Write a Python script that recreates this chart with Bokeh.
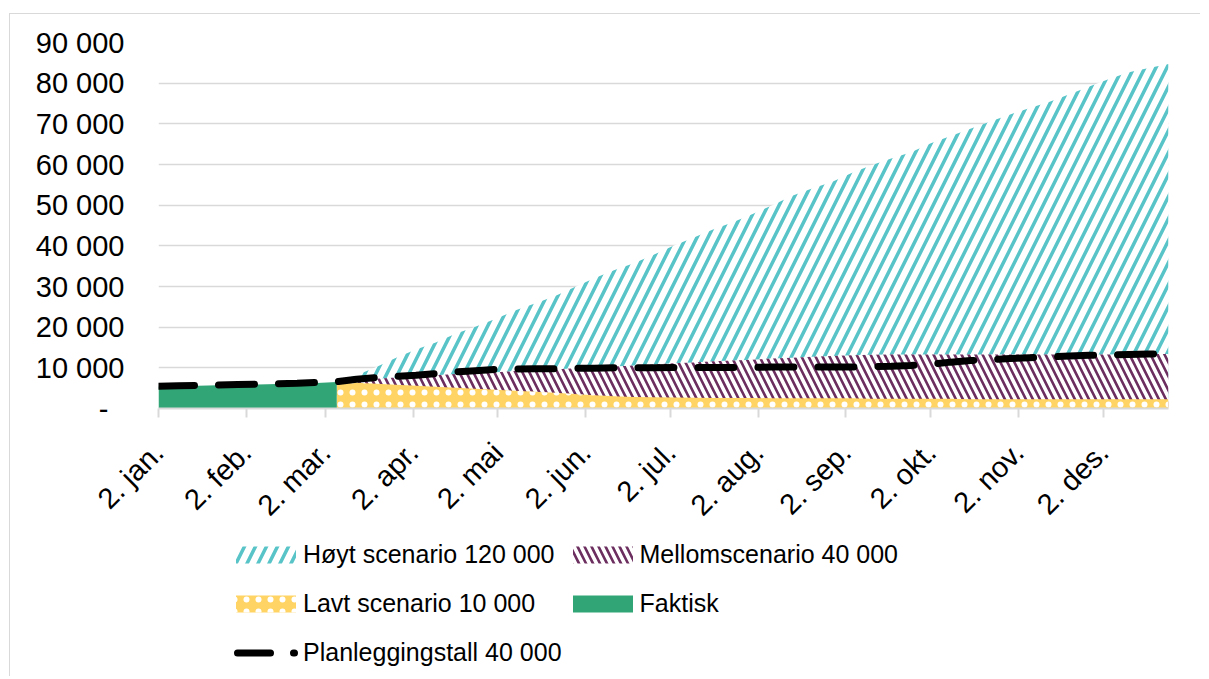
import math
import pandas as pd
from bokeh.plotting import figure
from bokeh.layouts import column
from bokeh.models import (ColumnDataSource, Range1d, FixedTicker, Legend, LegendItem)
from bokeh.embed import file_html
from bokeh.resources import INLINE

# ---------------- data ----------------
weeks = pd.date_range("2023-01-02", periods=52, freq="7D")
scen_weeks = weeks[9:]

faktisk = [5400, 5500, 5600, 5700, 5800, 5900, 6000, 6200, 6300, 6500]

hoyt = [6600, 8200, 10200, 12500, 14500, 16200, 18400, 20100, 22000, 24100,
        25800, 27600, 29800, 32000, 34000, 35700, 37800, 40000, 42000, 44000,
        45800, 47800, 50000, 52300, 54100, 55700, 57900, 59800, 61500, 63000,
        65200, 67000, 68800, 70600, 72300, 73900, 75400, 77300, 79200, 81000,
        82700, 83700, 84700]

mellom = [6700, 7000, 7300, 7600, 7900, 8200, 8500, 8700, 8900, 9200,
          9400, 9600, 9900, 10100, 10300, 10600, 10800, 11100, 11300, 11600,
          11800, 12000, 12300, 12500, 12700, 12900, 13100, 13200, 13300, 13300,
          13300, 13300, 13300, 13300, 13300, 13300, 13300, 13300, 13300, 13300,
          13400, 13400, 13400]

lavt = [6600, 6350, 6100, 5850, 5600, 5350, 5100, 4850, 4600, 4350,
        4100, 3850, 3550, 3250, 3000, 2850, 2750, 2700, 2650, 2600,
        2600, 2600, 2500, 2500, 2500, 2500, 2500, 2400, 2400, 2400,
        2400, 2400, 2300, 2300, 2300, 2300, 2300, 2300, 2300, 2300,
        2300, 2300, 2300]

plan = [5500, 5600, 5700, 5800, 5900, 6000, 6100, 6200, 6400, 6600,
        7200, 7600, 7900, 8200, 8600, 9000, 9300, 9600, 9700, 9800,
        9800, 9900, 9900, 10000, 10000, 10000, 10100, 10100, 10100, 10100,
        10100, 10200, 10200, 10200, 10200, 10200, 10300, 10400, 10600, 10900,
        11400, 11800, 12000, 12300, 12500, 12700, 12900, 13100, 13200, 13300,
        13400, 13500]

month_ticks = ["2023-01-02", "2023-02-02", "2023-03-02", "2023-04-02", "2023-05-02",
               "2023-06-02", "2023-07-02", "2023-08-02", "2023-09-02", "2023-10-02",
               "2023-11-02", "2023-12-02"]
month_labels = ["2. jan.", "2. feb.", "2. mar.", "2. apr.", "2. mai", "2. jun.",
                "2. jul.", "2. aug.", "2. sep.", "2. okt.", "2. nov.", "2. des."]

y_ticks = [0, 10000, 20000, 30000, 40000, 50000, 60000, 70000, 80000, 90000]
y_labels = ["-\u00a0\u00a0", "10 000", "20 000", "30 000", "40 000", "50 000",
            "60 000", "70 000", "80 000", "90 000"]

series_names = ["Høyt scenario 120 000", "Mellomscenario 40 000",
                "Lavt scenario 10 000", "Faktisk", "Planleggingstall 40 000"]

# ---------------- style ----------------
FONT = "Liberation Sans"
GRID = "#D9D9D9"
CYAN = "#58C4C8"
PURPLE = "#6B2E5E"
YELLOW = "#FFD464"
GREEN = "#31A576"

HOYT_STYLE = dict(fill_color="white", hatch_pattern="/", hatch_color=CYAN,
                  hatch_scale=22, hatch_weight=3.5)
MELLOM_STYLE = dict(fill_color="white", hatch_pattern="\\", hatch_color=PURPLE,
                    hatch_scale=14, hatch_weight=2.6)
LAVT_STYLE = dict(fill_color=YELLOW, hatch_pattern=".", hatch_color="white",
                  hatch_scale=12, hatch_weight=1.5)
FAKT_STYLE = dict(fill_color=GREEN)
PLAN_STYLE = dict(line_color="black", line_width=7, line_dash="36 24", line_cap="round")
# legend swatch of the dashed line: one dash and one dot, as in the reference
PLAN_LEGEND_STYLE = dict(line_color="black", line_width=7, line_dash="33 23 1 52",
                         line_dash_offset=100, line_cap="round")

# ---------------- sources ----------------
scen_src = ColumnDataSource(dict(x=list(scen_weeks), hoyt=hoyt, mellom=mellom,
                                 lavt=lavt, zero=[0] * len(hoyt)))
fakt_src = ColumnDataSource(dict(x=list(weeks[:10]), y=faktisk, zero=[0] * len(faktisk)))
plan_src = ColumnDataSource(dict(x=list(weeks), y=plan))

# ---------------- main chart ----------------
p = figure(width=1190, height=534, x_axis_type="datetime",
           output_backend="svg", toolbar_location=None,
           x_range=Range1d(weeks[0], weeks[-1]), y_range=Range1d(0, 90000),
           min_border_left=148, min_border_right=32, min_border_top=28,
           min_border_bottom=140)
p.outline_line_color = None
p.background_fill_color = "white"
p.border_fill_alpha = 0

p.varea(x="x", y1="zero", y2="hoyt", source=scen_src, **HOYT_STYLE)
p.varea(x="x", y1="zero", y2="mellom", source=scen_src, **MELLOM_STYLE)
p.varea(x="x", y1="zero", y2="lavt", source=scen_src, **LAVT_STYLE)
p.varea(x="x", y1="zero", y2="y", source=fakt_src, **FAKT_STYLE)
p.line(x="x", y="y", source=plan_src, **PLAN_STYLE)

ms = [pd.Timestamp(d).value / 1e6 for d in month_ticks]
p.xaxis.ticker = FixedTicker(ticks=ms, minor_ticks=[])
p.xaxis.major_label_overrides = {m: lab for m, lab in zip(ms, month_labels)}
p.xaxis.major_label_orientation = math.pi / 4
p.xaxis.axis_line_color = GRID
p.xaxis.axis_line_width = 2
p.xaxis.major_tick_line_color = GRID
p.xaxis.major_tick_line_width = 2
p.xaxis.major_tick_out = 9
p.xaxis.major_tick_in = 0
p.xaxis.minor_tick_line_color = None
p.xaxis.major_label_standoff = 30
p.xaxis.major_label_text_font = FONT
p.xaxis.major_label_text_font_size = "29px"
p.xaxis.major_label_text_color = "black"

p.yaxis.ticker = FixedTicker(ticks=y_ticks, minor_ticks=[])
p.yaxis.major_label_overrides = {t: lab for t, lab in zip(y_ticks, y_labels)}
p.yaxis.axis_line_color = None
p.yaxis.major_tick_line_color = None
p.yaxis.minor_tick_line_color = None
p.yaxis.major_label_standoff = 28
p.yaxis.major_label_text_font = FONT
p.yaxis.major_label_text_font_size = "29px"
p.yaxis.major_label_text_color = "black"

p.xgrid.visible = False
p.ygrid.grid_line_color = GRID
p.ygrid.grid_line_width = 1.5

# ---------------- legend panel ----------------
q = figure(width=1190, height=140, output_backend="svg", toolbar_location=None,
           x_axis_location=None, y_axis_location=None,
           x_range=Range1d(0, 1), y_range=Range1d(0, 1),
           min_border_left=148, min_border_right=32, min_border_top=0,
           min_border_bottom=0)
q.outline_line_color = None
q.background_fill_alpha = 0
q.border_fill_alpha = 0
q.grid.visible = False
q.styles = {"margin-top": "-12px"}

# legend swatches (kept outside the visible range of this panel)
swatch = ColumnDataSource(dict(x=[5, 6], y=[1, 1], z=[0, 0]))
lh = q.varea(x="x", y1="z", y2="y", source=swatch, **HOYT_STYLE)
lm = q.varea(x="x", y1="z", y2="y", source=swatch, **MELLOM_STYLE)
ll = q.varea(x="x", y1="z", y2="y", source=swatch, **LAVT_STYLE)
lf = q.varea(x="x", y1="z", y2="y", source=swatch, **FAKT_STYLE)
lp = q.line(x="x", y="y", source=swatch, **PLAN_LEGEND_STYLE)

# column-major fill: first column Høyt, Lavt, Planlegging; second Mellom, Faktisk
legend = Legend(items=[LegendItem(label=series_names[0], renderers=[lh]),
                       LegendItem(label=series_names[2], renderers=[ll]),
                       LegendItem(label=series_names[4], renderers=[lp]),
                       LegendItem(label=series_names[1], renderers=[lm]),
                       LegendItem(label=series_names[3], renderers=[lf])],
                location=(70, 1), ncols=2,
                label_text_font=FONT, label_text_font_size="25px",
                label_text_color="black",
                glyph_width=75, glyph_height=21, label_standoff=0,
                spacing=3, label_height=46, padding=0, margin=0,
                border_line_color=None, background_fill_alpha=0)
q.add_layout(legend)

layout = column(p, q, styles={"border-top": "1px solid #D9D9D9",
                              "border-left": "1px solid #D9D9D9",
                              "margin-top": "13px", "margin-left": "9px"})

open("out.html", "w").write(file_html(layout, INLINE))
